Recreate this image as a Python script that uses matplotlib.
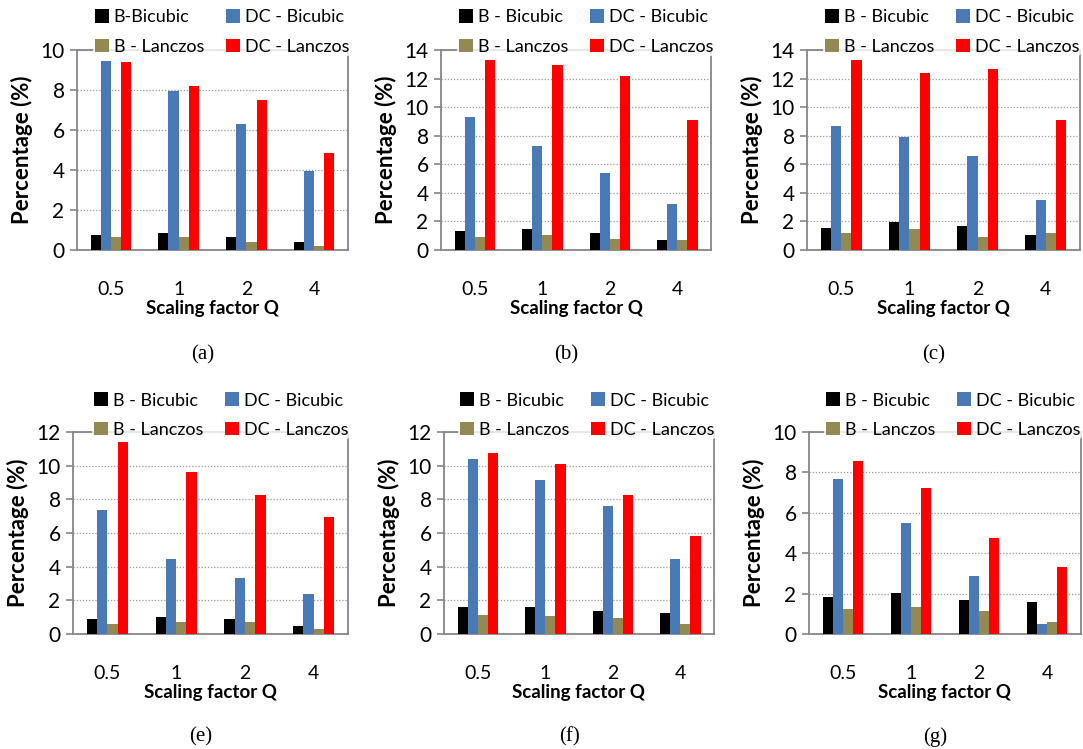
import numpy as np
import matplotlib
matplotlib.use("Agg")
import matplotlib.pyplot as plt

plt.rcParams['font.family'] = ['Lato', 'DejaVu Sans']

q_labels = ["0.5", "1", "2", "4"]
series_colors = ["#000000", "#4A7AB5", "#938953", "#FF0000"]

# values per panel: B-Bicubic, DC-Bicubic, B-Lanczos, DC-Lanczos
a_b_bic = [0.75, 0.84, 0.67, 0.39]
a_dc_bic = [9.47, 7.97, 6.30, 3.97]
a_b_lan = [0.66, 0.66, 0.39, 0.20]
a_dc_lan = [9.39, 8.20, 7.48, 4.84]

b_b_bic = [1.32, 1.44, 1.17, 0.70]
b_dc_bic = [9.34, 7.30, 5.42, 3.24]
b_b_lan = [0.93, 1.05, 0.80, 0.70]
b_dc_lan = [13.28, 12.93, 12.15, 9.10]

c_b_bic = [1.57, 1.94, 1.69, 1.05]
c_dc_bic = [8.71, 7.94, 6.56, 3.53]
c_b_lan = [1.19, 1.45, 0.94, 1.19]
c_dc_lan = [13.28, 12.41, 12.68, 9.10]

e_b_bic = [0.91, 1.03, 0.91, 0.50]
e_dc_bic = [7.38, 4.46, 3.33, 2.40]
e_b_lan = [0.60, 0.71, 0.71, 0.28]
e_dc_lan = [11.39, 9.64, 8.23, 6.94]

f_b_bic = [1.59, 1.59, 1.39, 1.27]
f_dc_bic = [10.42, 9.13, 7.62, 4.46]
f_b_lan = [1.15, 1.05, 0.93, 0.60]
f_dc_lan = [10.73, 10.10, 8.23, 5.83]

g_b_bic = [1.85, 2.05, 1.69, 1.59]
g_dc_bic = [7.69, 5.50, 2.88, 0.50]
g_b_lan = [1.24, 1.32, 1.16, 0.60]
g_dc_lan = [8.58, 7.22, 4.76, 3.31]

panels = [
    ("(a)", "B-Bicubic", [a_b_bic, a_dc_bic, a_b_lan, a_dc_lan], 10, 2),
    ("(b)", "B - Bicubic", [b_b_bic, b_dc_bic, b_b_lan, b_dc_lan], 14, 2),
    ("(c)", "B - Bicubic", [c_b_bic, c_dc_bic, c_b_lan, c_dc_lan], 14, 2),
    ("(e)", "B - Bicubic", [e_b_bic, e_dc_bic, e_b_lan, e_dc_lan], 12, 2),
    ("(f)", "B - Bicubic", [f_b_bic, f_dc_bic, f_b_lan, f_dc_lan], 12, 2),
    ("(g)", "B - Bicubic", [g_b_bic, g_dc_bic, g_b_lan, g_dc_lan], 10, 2),
]

W, H = 1083, 749
# axes boxes in pixels: left, top, right, bottom
boxes = [(77, 50, 348, 250), (441, 50, 711, 250), (807, 50, 1080, 250),
         (73, 432, 348, 634), (444, 432, 714, 634), (809, 432, 1081, 634)]
legend_centers = [(222, 32), (586, 32), (952, 32), (221, 415), (587, 415), (953, 415)]
caption_y = [355, 355, 355, 737, 737, 737]

fig = plt.figure(figsize=(W / 100, H / 100), dpi=100)
grey = "#868686"

for i, (cap, first_lab, data, ymax, ystep) in enumerate(panels):
    l, t, r, b = boxes[i]
    ax = fig.add_axes([l / W, 1 - b / H, (r - l) / W, (b - t) / H])
    x = np.arange(len(q_labels))
    w = 0.15
    labels = [first_lab, "DC - Bicubic", "B - Lanczos", "DC - Lanczos"]
    handles = []
    for k in range(4):
        hb = ax.bar(x + (k - 1.5) * w, data[k], width=w, color=series_colors[k], zorder=3)
        handles.append(hb)
    ax.set_xlim(-0.5, len(q_labels) - 0.5)
    ax.set_ylim(0, ymax)
    ax.set_yticks(np.arange(0, ymax + 0.1, ystep))
    ax.set_xticks(x)
    ax.set_xticklabels(q_labels)
    ax.tick_params(axis='x', length=0, labelsize=14, pad=22)
    ax.tick_params(axis='y', length=5, color=grey, labelsize=15, pad=4, width=1.2)
    for s in ax.spines.values():
        s.set_color(grey)
        s.set_linewidth(1.3)
    ax.yaxis.grid(True, linestyle=(0, (1, 1.5)), color="#9a9a9a", linewidth=0.9, zorder=0)
    ax.set_axisbelow(True)
    ax.set_ylabel("Percentage (%)", fontsize=16, fontweight='bold', labelpad=5)
    ax.set_xlabel("Scaling factor Q", fontsize=13.5, fontweight='bold', labelpad=2)

    order = [0, 2, 1, 3]
    lx, ly = legend_centers[i]
    leg = ax.legend([handles[j] for j in order], [labels[j] for j in order],
                    ncol=2, loc='center', bbox_to_anchor=(lx / W, 1 - ly / H),
                    bbox_transform=fig.transFigure, frameon=True, fontsize=13,
                    handlelength=0.8, handleheight=0.8, handletextpad=0.25,
                    columnspacing=1.2, labelspacing=0.72, borderpad=0.1,
                    borderaxespad=0)
    leg.get_frame().set_facecolor("white")
    leg.get_frame().set_edgecolor("none")
    leg.set_zorder(5)

    cx = (l + r) / 2 - 10
    fig.text(cx / W, 1 - caption_y[i] / H, cap, ha='center', va='center',
             fontsize=15, family=['Liberation Serif', 'DejaVu Serif'])

fig.savefig("out.png", dpi=100)
